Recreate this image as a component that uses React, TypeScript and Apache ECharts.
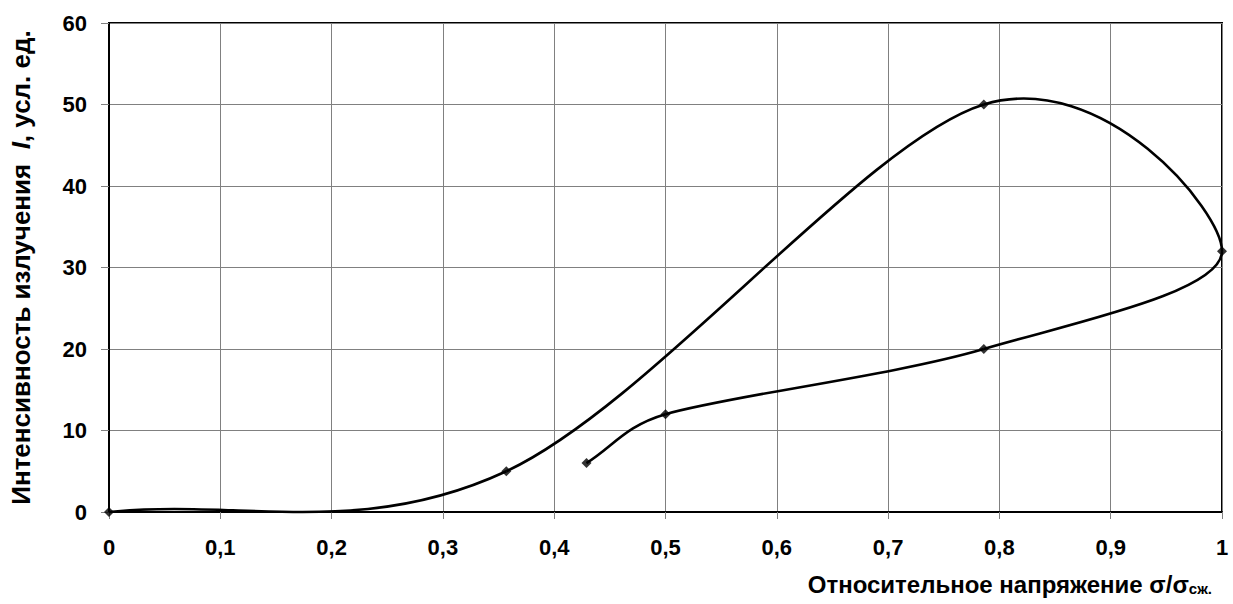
import React, { useEffect, useRef } from "react";
import * as echarts from "echarts";

const xValues = [0, 0.357, 0.786, 1, 0.786, 0.5, 0.429];
const yValues = [0, 5, 50, 32, 20, 12, 6];
const yTicks = [0, 10, 20, 30, 40, 50, 60];

const fmtX = (v: number) =>
  v === 0 ? "0" : v === 1 ? "1" : v.toFixed(1).replace(".", ",");

export default function App() {
  const ref = useRef<HTMLDivElement>(null);
  useEffect(() => {
    if (!ref.current) return;
    const chart = echarts.init(ref.current, null, { renderer: "svg" });
    const font = "'Liberation Sans', Arial, sans-serif";
    const points = xValues.map((x, i) => [x, yValues[i]]);
    const n = points.length;
    const dist = (a: number[], b: number[]) => Math.hypot(a[0] - b[0], a[1] - b[1]);
    // control offset along tangent, limited relative to adjacent segment length
    const ctrl = (p: number[], tan: number[], seg: number, sign: number) => {
      const tl = Math.hypot(tan[0], tan[1]) || 1;
      let len = tl / 6;
      const cap = seg * 0.45;
      if (len > cap) len = cap;
      return [p[0] + (sign * tan[0] * len) / tl, p[1] + (sign * tan[1] * len) / tl];
    };
    chart.setOption({
      animation: false,
      backgroundColor: "#ffffff",
      grid: {
        left: 109,
        right: 11,
        top: 23,
        bottom: 92,
        show: true,
        borderColor: "#000",
        borderWidth: 2,
        backgroundColor: "transparent",
      },
      xAxis: {
        type: "value",
        min: 0,
        max: 1,
        interval: 0.1,
        axisLine: { show: true, lineStyle: { color: "#000", width: 2 } },
        axisTick: { show: true, length: 7, lineStyle: { color: "#808080", width: 1 } },
        splitLine: { show: true, lineStyle: { color: "#808080", width: 1 } },
        axisLabel: {
          formatter: fmtX,
          color: "#000",
          fontFamily: font,
          fontWeight: "bold",
          fontSize: 22,
          margin: 24,
        },
      },
      yAxis: {
        type: "value",
        min: yTicks[0],
        max: yTicks[yTicks.length - 1],
        interval: 10,
        axisLine: { show: true, lineStyle: { color: "#000", width: 2 } },
        axisTick: { show: true, length: 8, lineStyle: { color: "#808080", width: 1 } },
        splitLine: { show: true, lineStyle: { color: "#808080", width: 1 } },
        axisLabel: {
          color: "#000",
          fontFamily: font,
          fontWeight: "bold",
          fontSize: 22,
          margin: 22,
        },
        name: "{b|Интенсивность излучения  }{i|I}{b|, усл. ед.}",
        nameLocation: "middle",
        nameRotate: 90,
        nameGap: 75,
        nameTextStyle: {
          rich: {
            b: { fontFamily: font, fontWeight: "bold", fontSize: 26, color: "#000" },
            i: { fontFamily: font, fontWeight: "bold", fontStyle: "italic", fontSize: 26, color: "#000" },
          },
        },
      },
      graphic: [
        {
          type: "text",
          right: 21,
          top: 572,
          style: {
            text: "{b|Относительное напряжение σ/σ}{s|сж.}",
            rich: {
              b: { fontFamily: font, fontWeight: "bold", fontSize: 24, fill: "#000", verticalAlign: "bottom", lineHeight: 29 },
              s: { fontFamily: font, fontWeight: "bold", fontSize: 15, fill: "#000", verticalAlign: "bottom", lineHeight: 20 },
            },
          },
        },
      ],
      series: [
        {
          type: "custom",
          data: points,
          encode: { x: 0, y: 1 },
          z: 2,
          silent: true,
          renderItem: (params: any, api: any) => {
            const i = params.dataIndex;
            if (i >= n - 1) return { type: "group", children: [] };
            const P = (k: number) => api.coord(points[k]);
            const p0 = P(i);
            const p1 = P(i + 1);
            const seg = dist(p0, p1);
            const pPrev = i > 0 ? P(i - 1) : [2 * p0[0] - p1[0], 2 * p0[1] - p1[1]];
            const pNext = i + 2 < n ? P(i + 2) : [2 * p1[0] - p0[0], 2 * p1[1] - p0[1]];
            const c1 = ctrl(p0, [p1[0] - pPrev[0], p1[1] - pPrev[1]], seg, 1);
            const c2 = ctrl(p1, [pNext[0] - p0[0], pNext[1] - p0[1]], seg, -1);
            return {
              type: "bezierCurve",
              shape: {
                x1: p0[0],
                y1: p0[1],
                x2: p1[0],
                y2: p1[1],
                cpx1: c1[0],
                cpy1: c1[1],
                cpx2: c2[0],
                cpy2: c2[1],
              },
              style: { stroke: "#000", lineWidth: 2.6, fill: null },
            };
          },
        },
        {
          type: "scatter",
          data: points,
          z: 3,
          symbol: "diamond",
          symbolSize: 10,
          itemStyle: { color: "#000" },
        },
      ],
    });
    return () => chart.dispose();
  }, []);
  return (
    <div
      ref={ref}
      style={{ position: "fixed", left: 0, top: 0, width: 1233, height: 604 }}
    />
  );
}
